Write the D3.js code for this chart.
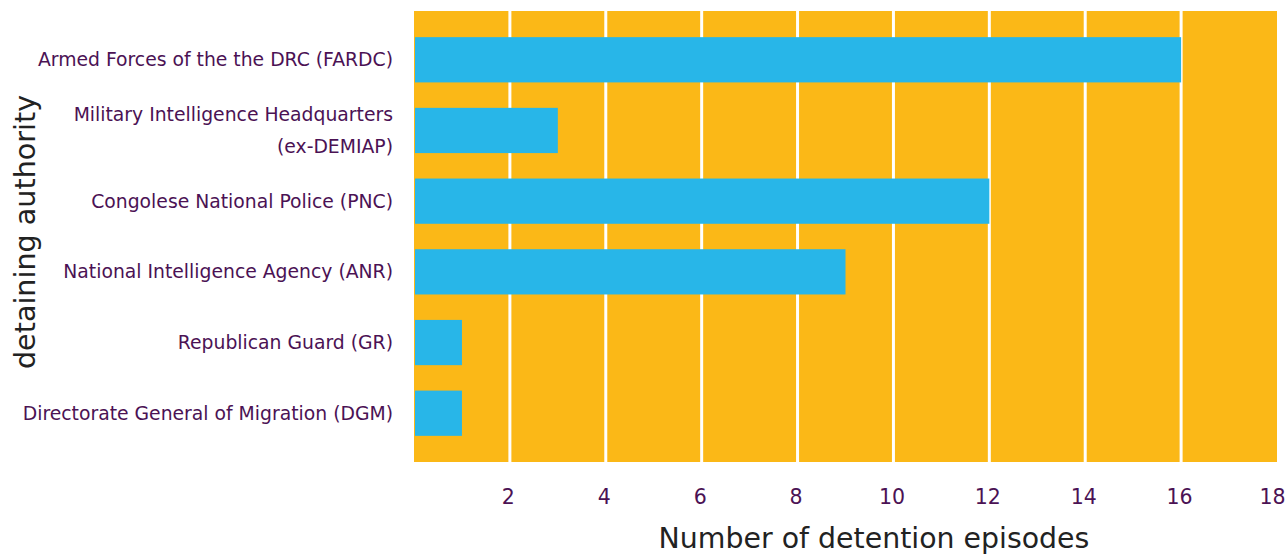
<!DOCTYPE html>
<html>
<head>
<meta charset="utf-8">
<script src="https://cdn.jsdelivr.net/npm/d3@7"></script>
<style>
  body { margin: 0; background: #fff; }
  text { font-family: "DejaVu Sans", sans-serif; }
</style>
</head>
<body>
<script>
var categories = [
  "Armed Forces of the the DRC (FARDC)",
  "Military Intelligence Headquarters|(ex-DEMIAP)",
  "Congolese National Police (PNC)",
  "National Intelligence Agency (ANR)",
  "Republican Guard (GR)",
  "Directorate General of Migration (DGM)"
];
var episodes = [16, 3, 12, 9, 1, 1];
var xTicks = [2, 4, 6, 8, 10, 12, 14, 16, 18];

var margin = {top: 11, right: 11, bottom: 95, left: 414},
    width = 1288 - margin.left - margin.right,
    height = 557 - margin.top - margin.bottom;

var svg = d3.select("body").append("svg")
    .attr("width", 1288)
    .attr("height", 557)
  .append("g")
    .attr("transform", "translate(" + margin.left + "," + margin.top + ")");

var x = d3.scaleLinear().domain([0, 18]).range([0, width]);
var y = d3.scaleBand().domain(categories).range([0, height])
    .paddingInner(0.36).paddingOuter(0.37);

// plot background
svg.append("rect")
    .attr("width", width)
    .attr("height", height)
    .attr("fill", "#FBB817");

// white grid lines
svg.selectAll(".grid")
    .data(xTicks.filter(function(d) { return d < 18; }))
  .enter().append("line")
    .attr("x1", function(d) { return x(d); })
    .attr("x2", function(d) { return x(d); })
    .attr("y1", 0)
    .attr("y2", height)
    .attr("stroke", "#fff")
    .attr("stroke-width", 3);

svg.selectAll(".bar")
    .data(episodes)
  .enter().append("rect")
    .attr("x", 1)
    .attr("y", function(d, i) { return y(categories[i]); })
    .attr("width", function(d) { return x(d) - 1; })
    .attr("height", y.bandwidth())
    .attr("fill", "#28B6E8");

// x axis
var xAxis = svg.append("g")
    .attr("transform", "translate(0," + height + ")")
    .call(d3.axisBottom(x).tickValues(xTicks).tickSize(0).tickPadding(27));
xAxis.select(".domain").remove();
xAxis.selectAll("text")
    .style("font-family", "DejaVu Sans, sans-serif")
    .attr("font-size", "20.5px")
    .attr("fill", "#4B1254")
    .attr("dx", function(d) { return d === 18 ? -5 : -2; });

// y axis labels
var yAxis = svg.append("g")
    .call(d3.axisLeft(y).tickSize(0).tickPadding(20).tickFormat(""));
yAxis.select(".domain").remove();
yAxis.selectAll(".tick").each(function(d) {
  var lines = d.split("|");
  var t = d3.select(this).select("text")
      .style("font-family", "DejaVu Sans, sans-serif")
      .attr("font-size", "18.8px")
      .attr("fill", "#4B1254")
      .attr("dy", null);
  lines.forEach(function(line, k) {
    t.append("tspan")
        .attr("x", -21)
        .attr("y", (k - (lines.length - 1) / 2) * 32)
        .attr("dy", "0.35em")
        .text(line);
  });
});

svg.append("text")
    .attr("x", 460)
    .attr("y", height + 86)
    .attr("text-anchor", "middle")
    .attr("font-size", "28.4px")
    .attr("fill", "#222")
    .text("Number of detention episodes");

svg.append("text")
    .attr("transform", "rotate(-90)")
    .attr("x", -221)
    .attr("y", -margin.left + 35)
    .attr("text-anchor", "middle")
    .attr("font-size", "28.6px")
    .attr("fill", "#222")
    .text("detaining authority");
</script>
</body>
</html>
